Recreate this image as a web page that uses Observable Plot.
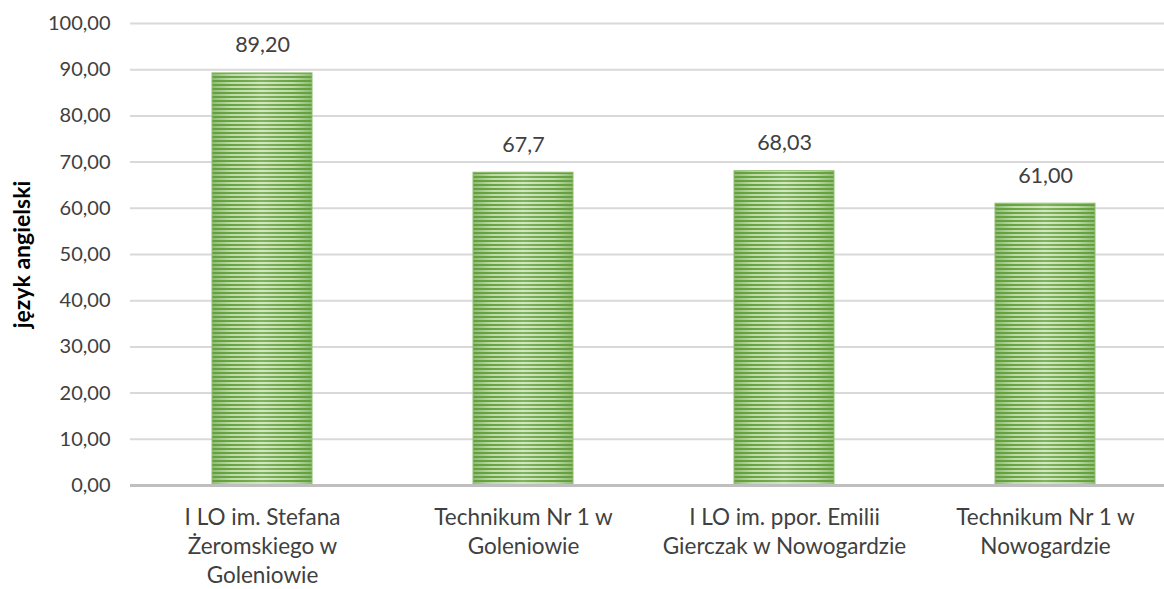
<!DOCTYPE html>
<html><head><meta charset="utf-8">
<script src="https://cdn.jsdelivr.net/npm/d3@7"></script>
<script src="https://cdn.jsdelivr.net/npm/@observablehq/plot@0.6"></script>
<style>body{margin:0;background:#fff}svg{display:block}</style>
</head><body><div id="chart"></div>
<script>
const schools = ["I LO im. Stefana\nŻeromskiego w\nGoleniowie","Technikum Nr 1 w\nGoleniowie","I LO im. ppor. Emilii\nGierczak w Nowogardzie","Technikum Nr 1 w\nNowogardzie"];
const scores = [89.20, 67.7, 68.03, 61.00];
const scoreLabels = ["89,20","67,7","68,03","61,00"];
const yTicks = [0,10,20,30,40,50,60,70,80,90,100];
const yTitle = "język angielski";

const data = schools.map((s,i)=>({school:s, score:scores[i], label:scoreLabels[i]}));
const fmt = v => v.toFixed(2).replace(".", ",");

const chart = Plot.plot({
  width: 1164, height: 589,
  marginTop: 23, marginBottom: 104, marginLeft: 130, marginRight: 0,
  style: {fontFamily: "Lato, sans-serif", fontSize: "20px", color: "#404040", background: "#fff"},
  x: {domain: schools, range: [130, 1177], paddingInner: 0.618, paddingOuter: 0.309, align: 0.5, label: null},
  y: {domain: [0, 100], label: null},
  marks: [
    Plot.ruleY(yTicks.filter(d=>d>0), {stroke: "#d9d9d9", strokeWidth: 2}),
    Plot.barY(data, {x: "school", y: "score", fill: "url(#stripes)"}),
    Plot.barY(data, {x: "school", y: "score", fill: "url(#edge)", stroke: "#8cbf6a", strokeWidth: 1}),
    Plot.ruleY([0], {stroke: "#bfbfbf", strokeWidth: 3}),
    Plot.text(data, {x: "school", y: "score", text: "label", lineAnchor: "bottom", dy: -21, fontSize: 21.5, fill: "#404040"}),
    Plot.axisY({ticks: yTicks, tickFormat: fmt, tickSize: 0, tickPadding: 20, fontSize: 20, label: null}),
    Plot.axisX({tickSize: 0, tickPadding: 19, fontSize: 22.5, lineHeight: 1.28, label: null}),
    Plot.text([yTitle], {frameAnchor: "left", textAnchor: "middle", dx: -108, rotate: -90, fontWeight: "bold", fontSize: 23, fill: "#000"})
  ]
});

const svg = d3.select(chart);
const defs = svg.insert("defs", ":first-child");
const p = defs.append("pattern").attr("id","stripes").attr("patternUnits","userSpaceOnUse")
  .attr("width", 8).attr("height", 4);
p.append("rect").attr("width",8).attr("height",4).attr("fill","#cbe4b8");
p.append("rect").attr("width",8).attr("height",2).attr("fill","#6aa544");
const g = defs.append("linearGradient").attr("id","edge").attr("x1","0").attr("x2","1").attr("y1","0").attr("y2","0");
g.append("stop").attr("offset","0").attr("stop-color","#5f9a3c").attr("stop-opacity",0.55);
g.append("stop").attr("offset","0.2").attr("stop-color","#5f9a3c").attr("stop-opacity",0.1);
g.append("stop").attr("offset","0.5").attr("stop-color","#ffffff").attr("stop-opacity",0.15);
g.append("stop").attr("offset","0.8").attr("stop-color","#5f9a3c").attr("stop-opacity",0.1);
g.append("stop").attr("offset","1").attr("stop-color","#5f9a3c").attr("stop-opacity",0.55);
document.getElementById("chart").appendChild(chart);
</script></body></html>
